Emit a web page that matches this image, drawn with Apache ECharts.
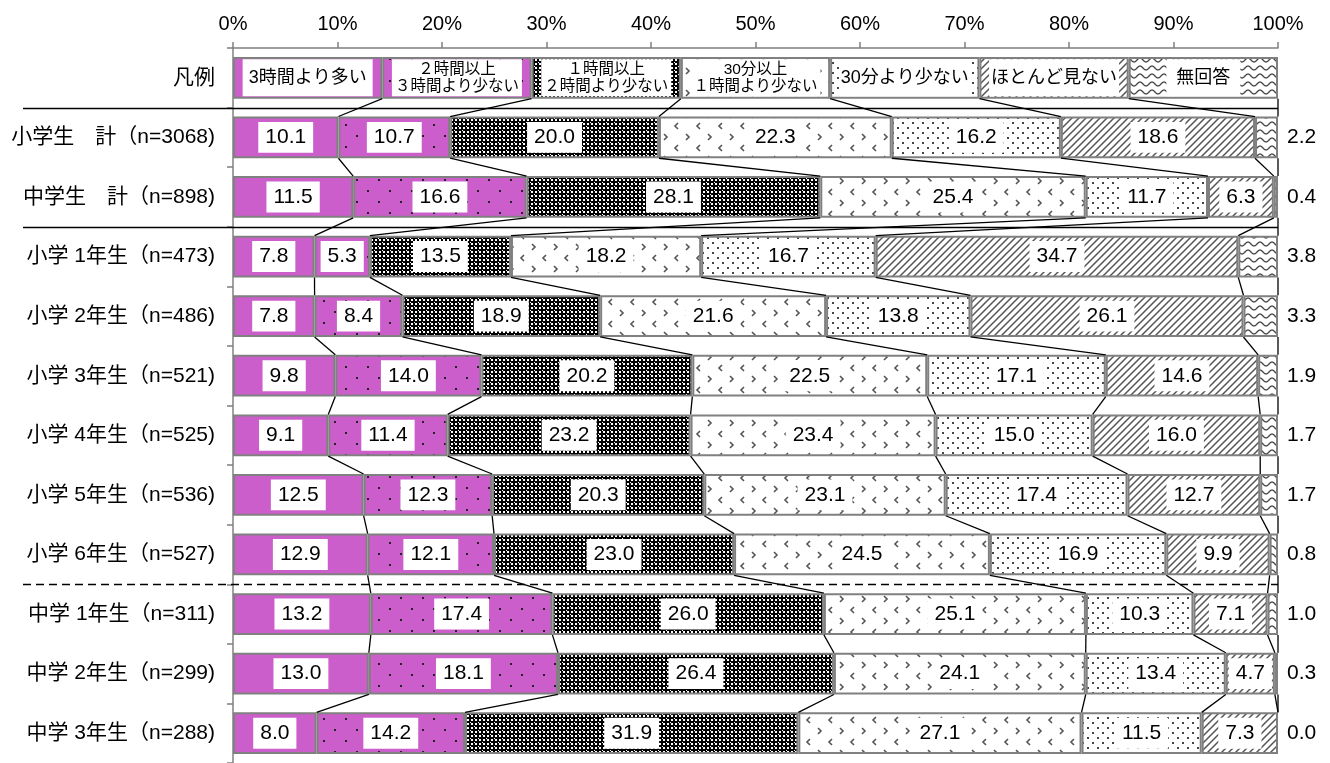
<!DOCTYPE html>
<html><head><meta charset="utf-8">
<script src="https://cdn.jsdelivr.net/npm/echarts@6/dist/echarts.min.js"></script>
<style>html,body{margin:0;padding:0;background:#fff}#c{width:1330px;height:763px}</style>
</head><body><div id="c"></div>
<script>
// ---------- data ----------
const categories = ['凡例', '小学生　計（n=3068)', '中学生　計（n=898)',
  '小学 1年生（n=473)', '小学 2年生（n=486)', '小学 3年生（n=521)', '小学 4年生（n=525)',
  '小学 5年生（n=536)', '小学 6年生（n=527)', '中学 1年生（n=311)', '中学 2年生（n=299)', '中学 3年生（n=288)'];
const seriesNames = ['3時間より多い', '２時間以上３時間より少ない', '１時間以上２時間より少ない',
  '30分以上１時間より少ない', '30分より少ない', 'ほとんど見ない', '無回答'];
const legendLabels = ['3時間より多い', '２時間以上\n３時間より少ない', '１時間以上\n２時間より少ない',
  '30分以上\n１時間より少ない', '30分より少ない', 'ほとんど見ない', '無回答'];
const over3h   = [10.1, 11.5, 7.8, 7.8, 9.8, 9.1, 12.5, 12.9, 13.2, 13.0, 8.0];
const h2to3    = [10.7, 16.6, 5.3, 8.4, 14.0, 11.4, 12.3, 12.1, 17.4, 18.1, 14.2];
const h1to2    = [20.0, 28.1, 13.5, 18.9, 20.2, 23.2, 20.3, 23.0, 26.0, 26.4, 31.9];
const m30to1h  = [22.3, 25.4, 18.2, 21.6, 22.5, 23.4, 23.1, 24.5, 25.1, 24.1, 27.1];
const under30m = [16.2, 11.7, 16.7, 13.8, 17.1, 15.0, 17.4, 16.9, 10.3, 13.4, 11.5];
const rarely   = [18.6, 6.3, 34.7, 26.1, 14.6, 16.0, 12.7, 9.9, 7.1, 4.7, 7.3];
const noAnswer = [2.2, 0.4, 3.8, 3.3, 1.9, 1.7, 1.7, 0.8, 1.0, 0.3, 0.0];
const xTicks = [0, 10, 20, 30, 40, 50, 60, 70, 80, 90, 100];
// separators drawn after these category indices
const solidAfter = [0, 2];
const dashedAfter = [8];

// ---------- styles ----------
const FONT = "'Liberation Sans','Noto Sans CJK JP',sans-serif";
const MAGENTA = '#CC5ECC';
const BORDER = '#808080';
const BAR_RATIO = 0.7;
const VALUE_FONT = 21;

function tile(w, h, bg, draw) {
  const c = document.createElement('canvas');
  c.width = w; c.height = h;
  const g = c.getContext('2d');
  g.fillStyle = bg; g.fillRect(0, 0, w, h);
  draw(g);
  return { image: c, repeat: 'repeat' };
}
const fills = [
  MAGENTA,
  tile(22, 22, MAGENTA, g => { g.fillStyle = '#222'; g.fillRect(4, 3, 2, 2); g.fillRect(15, 14, 2, 2); }),
  tile(8, 8, '#fff', g => {
    g.fillStyle = '#000';
    for (const [cx, cy] of [[2, 2], [6, 6]])
      for (let i = -1; i <= 1; i++) for (let j = -1; j <= 1; j++) {
        const x = cx + 8 * i, y = cy + 8 * j;
        g.fillRect(x - 3, y - 1, 7, 2); g.fillRect(x - 1, y - 3, 2, 7);
      }
  }),
  tile(22, 22, '#fff', g => {
    g.strokeStyle = '#555'; g.lineWidth = 1.6; g.beginPath();
    g.moveTo(4, 2); g.lineTo(7, 5); g.lineTo(4, 8);
    g.moveTo(18, 13); g.lineTo(15, 16); g.lineTo(18, 19);
    g.stroke();
  }),
  tile(10, 10, '#fff', g => { g.fillStyle = '#444'; g.fillRect(2, 2, 2, 2); g.fillRect(7, 7, 2, 2); }),
  tile(7, 7, '#fff', g => {
    g.strokeStyle = '#555'; g.lineWidth = 1.5; g.beginPath();
    g.moveTo(0, 7); g.lineTo(7, 0);
    g.moveTo(-1, 1); g.lineTo(1, -1);
    g.moveTo(6, 8); g.lineTo(8, 6);
    g.stroke();
  }),
  tile(12, 8, '#fff', g => {
    g.strokeStyle = '#444'; g.lineWidth = 1.3; g.beginPath();
    for (let x = 0; x <= 12; x += 0.5) {
      const y = 4 - 2 * Math.cos(2 * Math.PI * x / 12);
      if (x === 0) g.moveTo(x, y); else g.lineTo(x, y);
    }
    g.stroke();
  })
];

// ---------- build ----------
const seriesValues = [over3h, h2to3, h1to2, m30to1h, under30m, rarely, noAnswer];
const rowSums = over3h.map((_, r) => seriesValues.reduce((a, s) => a + s[r], 0));
const legendShare = 100 / seriesValues.length;

// normalized values per category (row 0 = legend row)
const norm = seriesValues.map(s => [legendShare].concat(s.map((v, r) => v / rowSums[r] * 100)));
// cumulative ends
const cum = categories.map((_, r) => {
  let acc = 0; return norm.map(s => (acc += s[r]));
});

const barSeries = seriesValues.map((vals, s) => {
  const isLast = s === seriesValues.length - 1;
  const multi = legendLabels[s].includes('\n');
  const data = [{
    value: norm[s][0],
    raw: null,
    label: {
      show: true,
      position: 'inside',
      formatter: legendLabels[s],
      fontSize: multi ? 15.5 : 18,
      lineHeight: multi ? 17 : 20,
      width: isLast ? 74 : 130, height: 37,
      padding: 0, align: 'center', verticalAlign: 'middle',
      backgroundColor: '#fff'
    }
  }].concat(vals.map((v, r) => ({ value: norm[s][r + 1], raw: v })));
  return {
    type: 'bar', name: seriesNames[s], stack: 'total', barWidth: (BAR_RATIO * 100) + '%',
    data,
    itemStyle: { color: fills[s], borderColor: BORDER, borderWidth: 2 },
    emphasis: { disabled: true },
    label: {
      show: !isLast, position: 'inside', color: '#000', fontSize: VALUE_FONT, fontFamily: FONT,
      backgroundColor: '#fff', padding: [5, 7],
      formatter: p => p.data.raw == null ? '' : p.data.raw.toFixed(1)
    }
  };
});

// connector lines between adjacent bars
const connData = [];
for (let r = 0; r < categories.length - 1; r++)
  for (let s = 0; s < seriesValues.length; s++)
    connData.push([cum[r][s], r, cum[r + 1][s], r + 1]);

const connectors = {
  type: 'custom', silent: true, z: 5,
  encode: { x: [0, 2], y: [1, 3] },
  data: connData,
  renderItem: (params, api) => {
    const a = api.coord([api.value(0), api.value(1)]);
    const b = api.coord([api.value(2), api.value(3)]);
    const half = (b[1] - a[1]) * BAR_RATIO / 2;
    return { type: 'line', shape: { x1: a[0], y1: a[1] + half, x2: b[0], y2: b[1] - half },
      style: { stroke: '#000', lineWidth: 1.3 } };
  }
};

const sepList = solidAfter.map(r => [r, 0]).concat(dashedAfter.map(r => [r, 1]));
const separators = {
  type: 'custom', silent: true, z: 6, clip: false,
  encode: { y: 0 },
  data: sepList,
  renderItem: (params, api) => {
    const r = api.value(0);
    const a = api.coord([0, r]);
    const b = api.coord([100, r + 1]);
    const y = Math.round((a[1] + b[1]) / 2) + 0.5;
    return { type: 'line', shape: { x1: a[0] - 210, y1: y, x2: b[0], y2: y },
      style: { stroke: '#000', lineWidth: 1.5, lineDash: api.value(1) ? [8, 5] : null } };
  }
};

// outside labels for 無回答 (placed at the end of each stacked bar)
const lastIdx = seriesValues.length - 1;
const noAnswerLabels = {
  type: 'custom', silent: true, z: 7, clip: false,
  encode: { x: 0, y: 1 },
  data: noAnswer.map((v, r) => [cum[r + 1][lastIdx], r + 1, v]),
  renderItem: (params, api) => {
    const p = api.coord([api.value(0), api.value(1)]);
    return { type: 'text', x: p[0] + 9, y: p[1],
      style: { text: api.value(2).toFixed(1), fill: '#000', fontSize: VALUE_FONT, fontFamily: FONT,
        align: 'left', verticalAlign: 'middle' } };
  }
};

const chart = echarts.init(document.getElementById('c'), null, { renderer: 'canvas' });
chart.setOption({
  animation: false,
  backgroundColor: '#fff',
  grid: { left: 233, top: 48, width: 1045, height: 720, containLabel: false },
  xAxis: {
    type: 'value', position: 'top', min: xTicks[0], max: xTicks[xTicks.length - 1], interval: xTicks[1] - xTicks[0],
    axisLine: { show: true, lineStyle: { color: BORDER, width: 1.5 } },
    axisTick: { show: true, length: 6, lineStyle: { color: BORDER, width: 1.5 } },
    splitLine: { show: false },
    axisLabel: { formatter: '{value}%', color: '#000', fontSize: 20, fontFamily: FONT, margin: 14 }
  },
  yAxis: {
    type: 'category', inverse: true, data: categories,
    axisLine: { show: true, lineStyle: { color: BORDER, width: 1.5 } },
    axisTick: { show: true, length: 6, lineStyle: { color: BORDER, width: 1.5 } },
    axisLabel: { color: '#000', fontSize: 21, fontFamily: FONT, margin: 18 }
  },
  series: barSeries.concat([connectors, separators, noAnswerLabels])
});
</script>
</body></html>
